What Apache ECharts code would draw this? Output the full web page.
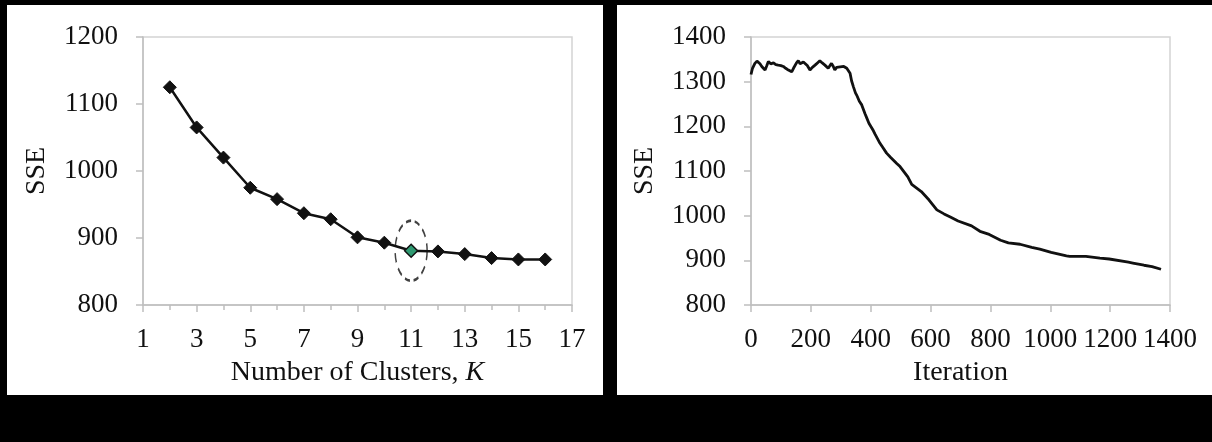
<!DOCTYPE html>
<html>
<head>
<meta charset="utf-8">
<script src="https://cdn.jsdelivr.net/npm/echarts@6/dist/echarts.min.js"></script>
<style>
  html, body { margin: 0; padding: 0; background: #000; }
  .panel { position: absolute; background: #fff; }
  #chart { position: absolute; left: 0; top: 0; width: 1212px; height: 442px; }
</style>
</head>
<body>
<div class="panel" style="left:7px; top:5px; width:596px; height:390px;"></div>
<div class="panel" style="left:617px; top:5px; width:595px; height:390px;"></div>
<div id="chart"></div>
<script>
// left: SSE vs number of clusters
var clusterK = [2, 3, 4, 5, 6, 7, 8, 9, 10, 11, 12, 13, 14, 15, 16];
var clusterSSE = [1125, 1065, 1020, 975, 958, 937, 928, 901, 893, 881, 880, 876, 870, 868, 868];
var chosenK = 11;

// right: SSE over iterations
var iterX = [0, 5, 13, 20, 24, 30, 36, 42, 47, 53, 58, 66, 75, 83, 91, 100, 108, 116, 125, 130,
  136, 142, 147, 152, 158, 164, 169, 175, 180, 188, 197, 205, 214, 222, 230, 238, 247, 252, 258, 264,
  269, 275, 280, 286, 292, 298, 303, 310, 320, 326, 331, 336, 342, 349, 353, 362, 370, 381, 386, 394,
  409, 414, 431, 440, 453, 466, 487, 498, 524, 537, 569, 595, 621, 645, 666, 692, 737, 765, 796, 834,
  860, 899, 938, 965, 1003, 1054, 1065, 1119, 1166, 1197, 1261, 1276, 1313, 1340, 1370];
var iterSSE = [1316, 1330, 1341, 1346, 1349, 1340, 1334, 1330, 1326, 1336, 1345, 1340, 1342, 1338, 1337, 1336, 1334, 1330, 1326, 1328,
  1322, 1330, 1334, 1342, 1347, 1340, 1337, 1344, 1347, 1336, 1326, 1332, 1337, 1342, 1347, 1342, 1337, 1334, 1330, 1336,
  1341, 1334, 1326, 1332, 1335, 1333, 1337, 1334, 1330, 1326, 1319, 1302, 1289, 1275, 1270, 1256, 1248, 1228, 1220, 1207,
  1190, 1183, 1162, 1153, 1140, 1131, 1117, 1110, 1087, 1070, 1054, 1035, 1013, 1004, 997, 988, 977, 965, 958, 945,
  939, 936, 929, 925, 918, 910, 909, 909, 905, 903, 896, 894, 889, 886, 880];

var font = "'Liberation Serif', 'DejaVu Serif', serif";
var axisGray = "#bfbfbf";
var labelSize = 27;
var nameSize = 28;

var leftData = clusterK.map(function (k, i) { return [k, clusterSSE[i]]; });
var chosenIdx = clusterK.indexOf(chosenK);
var iterData = iterX.map(function (x, i) { return [x, iterSSE[i]]; });

function plain(v) { return String(v); }

function xAxisOf(gridIndex, min, max, interval, name, minor) {
  return {
    gridIndex: gridIndex, type: "value", min: min, max: max, interval: interval,
    name: name, nameLocation: "middle", nameGap: 54,
    nameTextStyle: { fontFamily: font, fontSize: nameSize, color: "#111",
      rich: { i: { fontFamily: font, fontSize: nameSize, fontStyle: "italic", color: "#111" } } },
    axisLine: { show: true, lineStyle: { color: axisGray, width: 1.5 } },
    axisTick: { show: true, length: 7, lineStyle: { color: axisGray, width: 1.5 } },
    minorTick: { show: minor, splitNumber: 2, length: 5, lineStyle: { color: axisGray, width: 1.5 } },
    splitLine: { show: false },
    axisLabel: { fontFamily: font, fontSize: labelSize, color: "#111", margin: 21, formatter: plain }
  };
}

function yAxisOf(gridIndex, min, max) {
  return {
    gridIndex: gridIndex, type: "value", min: min, max: max, interval: 100,
    name: "SSE", nameLocation: "middle", nameGap: 92,
    nameTextStyle: { fontFamily: font, fontSize: nameSize, color: "#111" },
    axisLine: { show: true, lineStyle: { color: axisGray, width: 1.5 } },
    axisTick: { show: true, length: 7, lineStyle: { color: axisGray, width: 1.5 } },
    splitLine: { show: false },
    axisLabel: { fontFamily: font, fontSize: labelSize, color: "#111", margin: 25, formatter: plain }
  };
}

var chart = echarts.init(document.getElementById("chart"));
chart.setOption({
  backgroundColor: "transparent",
  animation: false,
  grid: [
    { left: 143, top: 37, width: 429, height: 268, show: true, borderColor: "#d4d4d4", borderWidth: 1.5, backgroundColor: "transparent" },
    { left: 751, top: 37, width: 419, height: 268, show: true, borderColor: "#d4d4d4", borderWidth: 1.5, backgroundColor: "transparent" }
  ],
  xAxis: [
    xAxisOf(0, 1, 17, 2, "Number of Clusters, {i|K}", true),
    xAxisOf(1, 0, 1400, 200, "Iteration", false)
  ],
  yAxis: [
    yAxisOf(0, 800, 1200),
    yAxisOf(1, 800, 1400)
  ],
  series: [
    {
      type: "line", xAxisIndex: 0, yAxisIndex: 0,
      data: leftData.map(function (d, i) {
        if (i === chosenIdx) {
          return { value: d, itemStyle: { color: "#2f9a72", borderColor: "#111", borderWidth: 1.5 } };
        }
        return d;
      }),
      symbol: "diamond", symbolSize: 13,
      lineStyle: { color: "#111", width: 2.5 },
      itemStyle: { color: "#111", borderColor: "#111" },
      z: 3
    },
    {
      // dashed ellipse around the chosen K
      type: "scatter", xAxisIndex: 0, yAxisIndex: 0,
      data: [leftData[chosenIdx]],
      symbol: "circle", symbolSize: [32, 60],
      itemStyle: { color: "rgba(0,0,0,0)", borderColor: "#111", borderWidth: 2, borderType: [7, 5] },
      silent: true, z: 2
    },
    {
      type: "line", xAxisIndex: 1, yAxisIndex: 1,
      data: iterData,
      showSymbol: false,
      lineStyle: { color: "#111", width: 2.8 }
    }
  ]
});
</script>
</body>
</html>
